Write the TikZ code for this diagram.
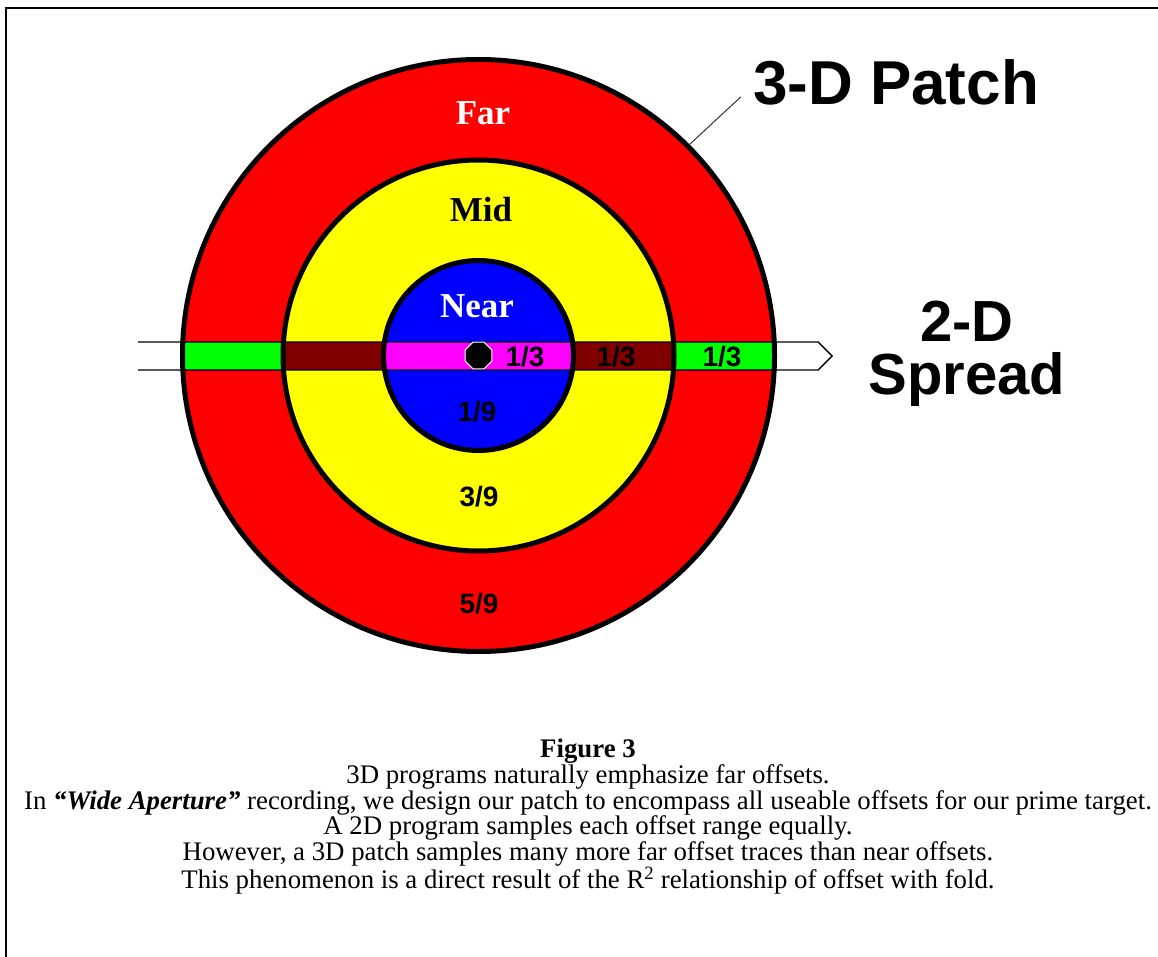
\documentclass[tikz,border=0pt]{standalone}
\usepackage{fontspec}
\setmainfont{Liberation Serif}
\newfontfamily\arialfont{Liberation Sans}
\usetikzlibrary{positioning,shapes.geometric,calc}
\definecolor{farclr}{RGB}{255,0,0}
\definecolor{midclr}{RGB}{255,255,0}
\definecolor{nearclr}{RGB}{0,0,255}
\definecolor{barfar}{RGB}{0,255,0}
\definecolor{barmid}{RGB}{128,0,0}
\definecolor{barnear}{RGB}{255,0,255}
\tikzset{
  ring/.style={circle,draw=black,line width=5pt,
               inner sep=0pt,outer sep=2.5pt},
  zone/.style={font=\fontsize{35}{35}\selectfont\bfseries,inner sep=0pt},
  frac/.style={font=\arialfont\fontsize{28}{28}\selectfont\bfseries,
               inner sep=0pt},
  callout/.style={font=\arialfont\fontsize{62}{62}\selectfont\bfseries,
                  inner sep=0pt},
}

\begin{document}
\begin{tikzpicture}[x=1pt,y=-1pt]
\useasboundingbox (0,0) rectangle (1158,957);
\draw[line width=2.2pt] (6,957) -- (6,8) -- (1158,8);
\coordinate (c) at (478.5,355.5);
% offset rings, bar and outlines go on top
\fill[farclr]  (c) circle[radius=296pt];
\fill[midclr]  (c) circle[radius=195.5pt];
\fill[nearclr] (c) circle[radius=95pt];
\begin{scope}
  \clip (c) circle[radius=296pt];
  \fill[barfar] (130,342) rectangle (830,370);
  \clip (c) circle[radius=195.5pt];
  \fill[barmid] (130,342) rectangle (830,370);
  \clip (c) circle[radius=95pt];
  \fill[barnear] (130,342) rectangle (830,370);
\end{scope}
\draw[line width=1.4pt] (138,342) -- (818,342) -- (832,356) -- (818,370) -- (138,370);
\node[ring,minimum size=592pt] (far)  at (c) {};
\node[ring,minimum size=391pt] (mid)  at (c) {};
\node[ring,minimum size=190pt] (near) at (c) {};
\node[regular polygon,regular polygon sides=8,fill=black,draw=white,
      line width=1pt,minimum size=29pt,inner sep=0pt] (shot) at (c) {};
\node[zone,text=white] (farlbl)  at (483,113) {Far};
\node[zone]            (midlbl)  at (481,210) {Mid};
\node[zone,text=white] (nearlbl) at (477,306) {Near};
\node[frac] (nearbar) at (525,357) {1/3};
\node[frac] (midbar)  at (616,357) {1/3};
\node[frac] (farbar)  at (722,357) {1/3};
\node[frac] (nearfold) at (477,412) {1/9};
\node[frac] (midfold)  at (479,497) {3/9};
\node[frac] (farfold)  at (479,604) {5/9};
\node[callout,anchor=base] (patch) at (896,105) {3-D Patch};
\draw[line width=1pt,black!80] (far.45) -- ([shift={(-12,14)}]patch.west);
\node[callout,font=\arialfont\fontsize{58}{53}\selectfont\bfseries,
      align=center] (spread) at (967,354) {2-D\\Spread};
\node[font=\fontsize{26.8}{25.6}\selectfont,align=center,anchor=north,
      inner sep=0pt] (caption) at (588,739) {\textbf{Figure 3}\\
  3D programs naturally emphasize far offsets.\\
  In \textbf{\textit{“Wide Aperture”}} recording, we design our patch to encompass all useable offsets for our prime target.\\
  A 2D program samples each offset range equally.\\
  However, a 3D patch samples many more far offset traces than near offsets.\\
  This phenomenon is a direct result of the R\textsuperscript{2} relationship of offset with fold.};
\end{tikzpicture}
\end{document}
